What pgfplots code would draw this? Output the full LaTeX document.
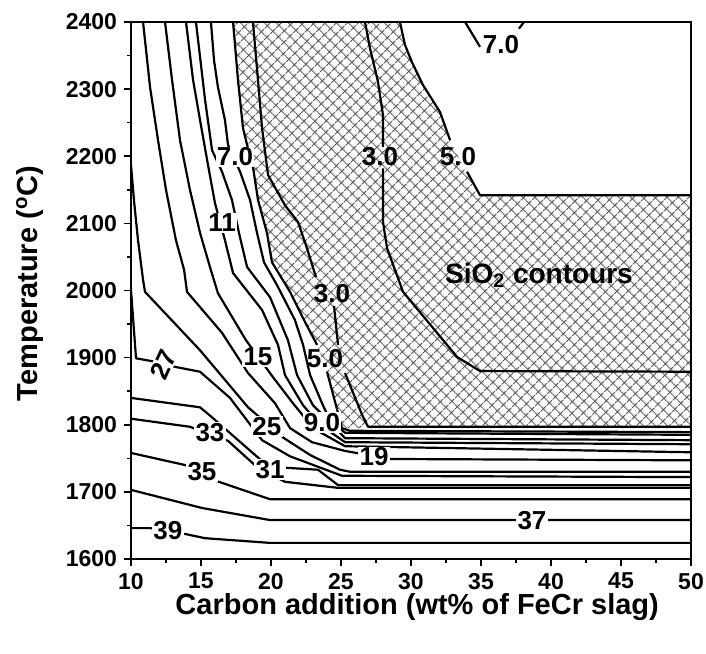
\documentclass[border=0pt]{standalone}
\usepackage{fontspec}
\setmainfont{Liberation Sans}
\usepackage{pgfplots}
\pgfplotsset{compat=1.18}
\usetikzlibrary{patterns.meta}
\pgfplotsset{
  cl/.style={black, line width=1.1pt, no marks, line join=round},
}
\tikzset{
  lab/.style={fill=white, inner sep=0.6pt, font=\fontsize{13}{14}\selectfont\bfseries},
  labh/.style={inner sep=0.6pt, font=\fontsize{13}{14}\selectfont\bfseries},
}
\begin{document}
\begin{tikzpicture}
\useasboundingbox (-65.5pt,-47pt) rectangle (287.5pt,279.5pt);
\begin{axis}[
  at={(0,0)}, anchor=south west,
  scale only axis, width=280pt, height=268.5pt,
  xmin=10, xmax=50, ymin=1600, ymax=2400,
  xtick={10,15,...,50}, ytick={1600,1700,...,2400},
  minor x tick num=1, minor y tick num=1,
  tick pos=left, tick align=outside,
  major tick length=3.5pt, minor tick length=2pt,
  every tick/.style={black, line width=0.8pt},
  axis line style={line width=1pt},
  ticklabel style={font=\fontsize{11.5}{13}\selectfont\bfseries},
  /pgf/number format/assume math mode=true,
  /pgf/number format/set thousands separator={},
  xlabel={Carbon addition (wt\% of FeCr slag)},
  ylabel={Temperature (\textsuperscript{o}C)},
  label style={font=\fontsize{14.5}{16}\selectfont\bfseries},
  xlabel style={at={(axis description cs:0.511,-0.0894)}, anchor=center},
  ylabel style={at={(axis description cs:-0.1804,0.513)}, anchor=center},
  axis on top,
]
% hatched SiO2 region
\addplot[draw=none, pattern={Hatch[angle=45,distance=4pt,line width=0.5pt]}, pattern color=black!65] coordinates {
(17.29,2400) (17.64,2314) (18.00,2242) (18.29,2217) (18.64,2194) (19.07,2135) (19.71,2086) (20.07,2042) (21.36,1998) (22.43,1953) (23.29,1919) (24.00,1879) (24.64,1829) (25.07,1795) (50,1795) (50,2142) (34.93,2142) (34.00,2177) (33.36,2200) (32.79,2224) (32.07,2266) (30.86,2306) (30.07,2340) (29.57,2366) (29.21,2400)
} -- cycle;

% contour lines
\addplot[cl] coordinates {(10,2187) (10.21,2135) (10.50,2075) (10.86,2016) (11.00,1998) (14.93,1911) (18.36,1826) (20.93,1780) (22.79,1755) (24.93,1733) (25.64,1730) (50,1730)};
\addplot[cl] coordinates {(10,2001) (10.21,1941) (10.36,1899) (11.43,1895) (13.21,1886) (14.93,1879) (17.07,1840) (19.36,1777) (21.36,1753) (25.07,1724) (50,1722)};
\addplot[cl] coordinates {(10,1840) (14.93,1826) (15.79,1811) (18.86,1755) (19.93,1736) (21.00,1736) (23.36,1733) (24.79,1710) (50,1710)};
\addplot[cl] coordinates {(10,1809) (14.21,1797) (16.93,1776) (19.00,1737) (21.00,1715) (24.79,1706) (50,1706)};
\addplot[cl] coordinates {(10,1758) (13.86,1740) (16.14,1716) (19.93,1689) (50,1689)};
\addplot[cl] coordinates {(10,1703) (15.07,1676) (19.93,1658) (50,1658)};
\addplot[cl] coordinates {(10,1646) (11.36,1646) (13.93,1637) (15.29,1631) (19.93,1624) (50,1624)};
% A
\addplot[cl] coordinates {(10.86,2400) (11.36,2303) (11.93,2224) (12.50,2150) (13.21,2075) (13.79,2031) (14.00,1998) (16.50,1937) (18.36,1877) (20.29,1832) (21.36,1795) (22.93,1774) (25.29,1761) (28.50,1749) (50,1747)};
% B
\addplot[cl] coordinates {(12.43,2400) (12.93,2314) (13.50,2224) (14.21,2150) (14.93,2086) (15.64,2035) (16.21,1996) (18.21,1926) (20.14,1871) (21.57,1832) (22.43,1810) (23.50,1789) (25.29,1768) (50,1759)};
% C
\addplot[cl] coordinates {(13.93,2400) (14.43,2314) (14.93,2254) (15.50,2187) (16.00,2130) (16.71,2075) (17.29,2026) (19.36,1971) (20.50,1919) (21.00,1874) (22.29,1829) (23.50,1800) (25.29,1774) (50,1771)};
% D
\addplot[cl] coordinates {(14.64,2400) (15.29,2284) (15.79,2209) (16.50,2177) (17.21,2135) (17.71,2086) (18.29,2035) (19.93,1990) (21.21,1926) (21.86,1874) (23.00,1829) (24.07,1807) (25.29,1780) (50,1777)};
% E
\addplot[cl] coordinates {(15.71,2400) (15.93,2343) (16.21,2303) (16.71,2254) (16.93,2217) (17.79,2177) (18.50,2135) (19.00,2086) (19.50,2042) (20.43,2008) (21.71,1956) (22.29,1919) (22.79,1874) (23.71,1829) (24.21,1807) (25.29,1788) (50,1785)};
% F (hatch edge)
\addplot[cl] coordinates {(17.29,2400) (17.64,2314) (18.00,2242) (18.29,2217) (18.64,2194) (19.07,2135) (19.71,2086) (20.07,2042) (21.36,1998) (22.43,1953) (23.29,1919)};
\addplot[cl] coordinates {(24.00,1879) (24.64,1829) (25.07,1795) (25.64,1791) (50,1789)};
% G
\addplot[cl] coordinates {(18.71,2400) (19.07,2314) (19.36,2242) (19.79,2172) (21.00,2127) (21.93,2102) (22.57,2063) (23.21,2020)};
\addplot[cl] coordinates {(24.50,1977) (24.79,1919)};
\addplot[cl] coordinates {(25.29,1877) (26.50,1815) (26.93,1797) (50,1797)};
% H
\addplot[cl] coordinates {(26.71,2400) (27.07,2361) (27.64,2311) (28.00,2261) (28.00,2214)};
\addplot[cl] coordinates {(28.00,2182) (28.00,2102) (28.29,2063) (29.43,1998) (33.29,1901) (34.93,1880) (50,1879)};
% I
\addplot[cl] coordinates {(29.21,2400) (29.57,2366) (30.07,2340) (30.86,2306) (32.07,2266) (32.79,2224)};
\addplot[cl] coordinates {(34.00,2177) (34.93,2142) (50,2142)};
% J
\addplot[cl] coordinates {(33.86,2400) (34.93,2363)};
\addplot[cl] coordinates {(37.71,2390) (38.07,2400)};

% labels
\node[lab] at (axis cs:17.43,2199) {7.0};
\node[lab] at (axis cs:16.50,2101) {11};
\node[lab] at (axis cs:19.07,1901) {15};
\node[lab] at (axis cs:19.71,1798) {25};
\node[lab, rotate=65] at (axis cs:12.29,1890) {27};
\node[lab] at (axis cs:15.64,1788) {33};
\node[lab] at (axis cs:19.93,1733) {31};
\node[lab] at (axis cs:15.07,1730) {35};
\node[lab] at (axis cs:12.64,1643) {39};
\node[lab] at (axis cs:38.64,1658) {37};
\node[lab] at (axis cs:27.36,1752) {19};
\node[lab] at (axis cs:23.64,1803) {9.0};
\node[lab] at (axis cs:36.43,2367) {7.0};
\node[labh] at (axis cs:27.79,2199) {3.0};
\node[labh] at (axis cs:33.36,2199) {5.0};
\node[labh] at (axis cs:24.36,1996) {3.0};
\node[labh] at (axis cs:23.86,1899) {5.0};
\node[font=\fontsize{14}{15}\selectfont\bfseries] at (axis cs:39.14,2023) {SiO\textsubscript{2} contours};
\end{axis}
\end{tikzpicture}
\end{document}
